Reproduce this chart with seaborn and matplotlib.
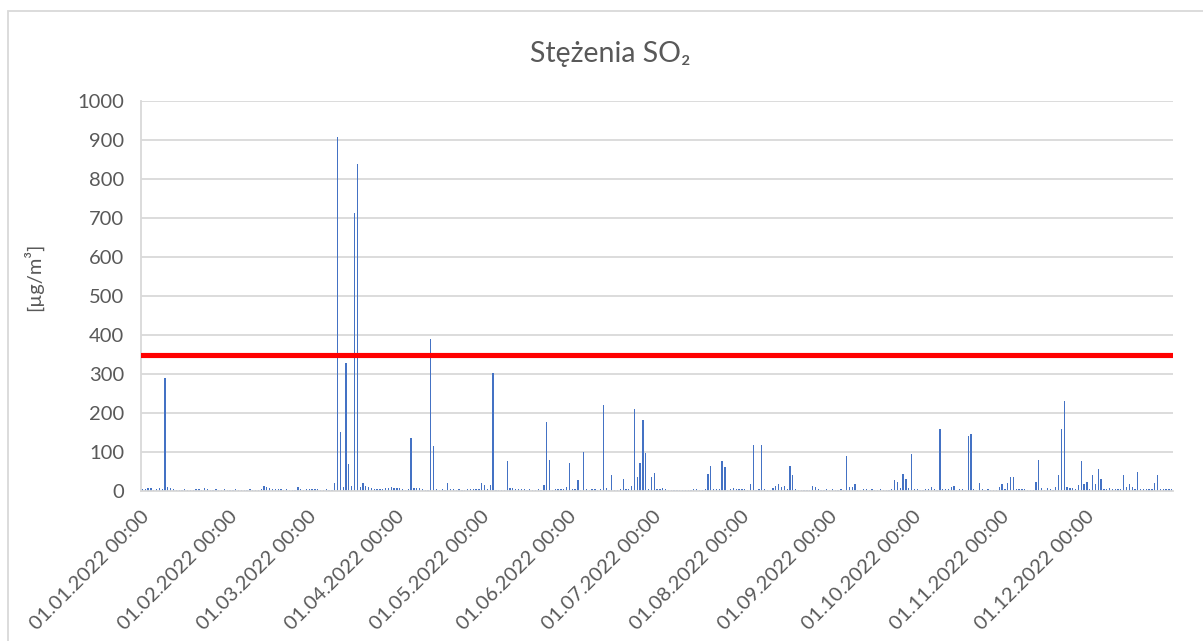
import numpy as np
import pandas as pd
import matplotlib
matplotlib.use("Agg")
import matplotlib.pyplot as plt
from matplotlib.patches import Rectangle
import seaborn as sns

# daily SO2 concentrations in 2022 [ug/m3]
jan = [6, 4, 8, 8, 3, 5, 7, 6, 291, 10, 7, 6, 3, 2, 3, 4, 2, 3, 2, 4, 5, 3, 8, 6, 2, 3, 4, 2, 3, 4, 2]
feb = [3, 2, 4, 3, 2, 3, 2, 4, 3, 2, 3, 5, 12, 10, 7, 6, 5, 5, 4, 3, 4, 3, 2, 3, 9, 4, 3, 5]
mar = [4, 5, 5, 4, 3, 3, 4, 3, 3, 20, 909, 152, 10, 327, 69, 13, 713, 838, 10, 21, 13, 10, 8, 6, 6, 4, 6, 8, 8, 9, 8]
apr = [8, 7, 5, 3, 4, 137, 8, 7, 7, 4, 3, 3, 391, 115, 4, 3, 6, 3, 20, 5, 6, 3, 5, 3, 3, 6, 4, 4, 6, 5]
may = [20, 15, 4, 15, 303, 3, 2, 2, 3, 78, 8, 7, 5, 5, 4, 4, 3, 4, 3, 3, 4, 3, 15, 176, 80, 3, 4, 4, 5, 6, 9]
jun = [71, 4, 5, 28, 3, 101, 4, 3, 6, 4, 3, 4, 220, 8, 3, 41, 3, 3, 5, 30, 5, 4, 12, 211, 35, 71, 183, 98, 5, 35]
jul = [47, 4, 6, 7, 4, 3, 3, 3, 2, 3, 3, 2, 3, 3, 4, 4, 3, 2, 4, 43, 64, 6, 6, 4, 78, 61, 3, 5, 8, 5, 4]
aug = [5, 4, 3, 17, 118, 3, 4, 118, 6, 3, 3, 8, 13, 19, 11, 13, 4, 64, 41, 4, 3, 3, 2, 3, 3, 13, 10, 6, 3, 2, 4]
sep = [3, 4, 3, 3, 4, 3, 91, 11, 11, 17, 3, 3, 4, 4, 3, 5, 3, 3, 4, 3, 3, 3, 4, 27, 24, 8, 44, 30, 8, 94]
oct_ = [6, 4, 3, 3, 4, 5, 10, 6, 3, 159, 6, 6, 6, 11, 12, 3, 5, 4, 3, 141, 145, 4, 3, 20, 5, 3, 4, 3, 3, 3, 10]
nov = [17, 5, 21, 37, 35, 4, 6, 4, 5, 3, 3, 3, 22, 79, 8, 3, 7, 4, 3, 10, 40, 158, 232, 9, 7, 7, 6, 15, 78, 18]
dec = [22, 4, 40, 18, 56, 30, 6, 6, 7, 6, 5, 5, 4, 40, 10, 17, 10, 6, 48, 4, 6, 5, 6, 5, 20, 40, 4, 4, 4, 4, 4]

limit = 350  # 1-hour limit value
month_starts = pd.date_range("2022-01-01", "2023-01-01", freq="MS")
tick_labels = [d.strftime("%d.%m.%Y %H:%M") for d in month_starts[:-1]] + [""]

values = jan + feb + mar + apr + may + jun + jul + aug + sep + oct_ + nov + dec
dates = pd.date_range("2022-01-01", periods=len(values), freq="D")
start = pd.Timestamp("2022-01-01")
df = pd.DataFrame({
    "day": (dates - start).days + 0.5,
    "so2": values,
})

sns.set_style("white")
plt.rcParams["font.family"] = ["Lato", "DejaVu Sans"]
text_color = "#595959"
grid_color = "#d9d9d9"

fig = plt.figure(figsize=(12.03, 6.41), dpi=100)
ax = fig.add_axes([0.1172, 0.234, 0.858, 0.6084])

sns.barplot(data=df, x="day", y="so2", native_scale=True, color="#4472c4",
            saturation=1, width=0.45, linewidth=0, ax=ax)
ax.axhline(limit, color="#ff0000", linewidth=3.7, zorder=5)

ax.set_xlim(0, 365)
ax.set_ylim(0, 1000)
ax.set_yticks(range(0, 1001, 100))
ax.yaxis.grid(True, color=grid_color, linewidth=1.3)
ax.set_axisbelow(True)

tick_pos = [(d - start).days for d in month_starts]
ax.set_xticks(tick_pos)
ax.set_xticklabels(tick_labels, rotation=45, ha="right", rotation_mode="anchor")
ax.tick_params(axis="x", length=6, width=1.2, color=grid_color, labelsize=14.5,
               labelcolor=text_color, pad=6)
ax.tick_params(axis="y", length=7, width=1.2, color=grid_color, labelsize=14.5,
               labelcolor=text_color, pad=5)

for side in ["top", "right"]:
    ax.spines[side].set_visible(False)
for side in ["left", "bottom"]:
    ax.spines[side].set_color(grid_color)
    ax.spines[side].set_linewidth(1.3)

ax.set_xlabel("")
ax.set_ylabel("[µg/m³]", fontsize=14.5, color=text_color, labelpad=14)
ax.yaxis.set_label_coords(-0.095, 0.55)
fig.text(0.507, 0.915, "Stężenia SO₂", ha="center", va="center",
         fontsize=20.5, color=text_color)

# chart area frame like in the spreadsheet
fig.patches.append(Rectangle((0.0065, -0.05), 1.1, 1.033, transform=fig.transFigure,
                             fill=False, edgecolor=grid_color, linewidth=1.3))

fig.savefig("out.png", dpi=100, facecolor="white")
plt.close(fig)
